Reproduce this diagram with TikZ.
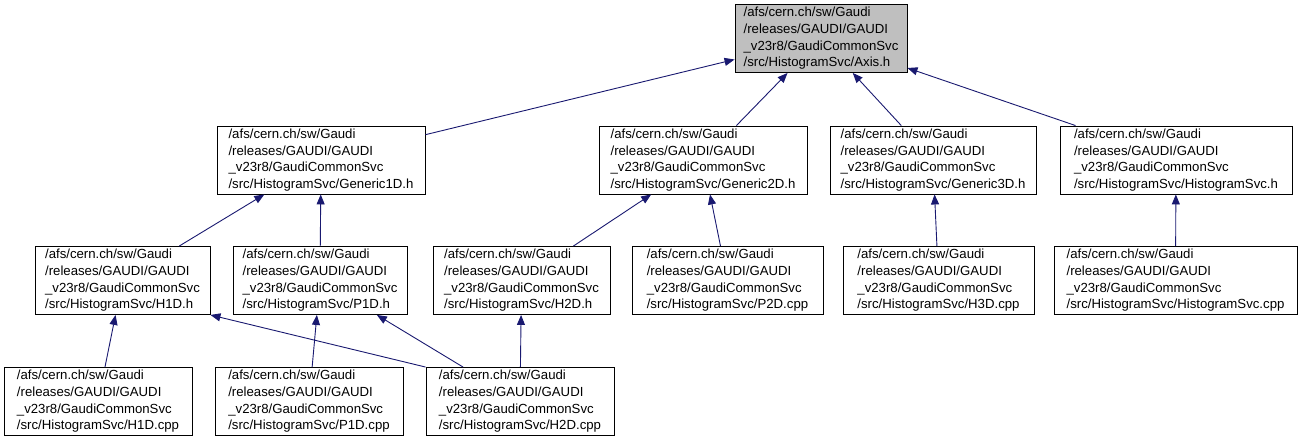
\documentclass[tikz,border=0pt]{standalone}
\usepackage{fontspec}
\setmainfont{Liberation Sans}
\usetikzlibrary{arrows.meta}

\definecolor{edgeblue}{HTML}{191970}
\definecolor{focusgray}{HTML}{BFBFBF}
\newcommand{\gaudifile}[1]{/afs/cern.ch/sw/Gaudi\\/releases/GAUDI/GAUDI\\\_v23r8/GaudiCommonSvc\\/src/HistogramSvc/#1}

\tikzset{
    filenode/.style={draw=black, fill=white, line width=0.9pt, align=left, inner sep=0pt,
        font=\fontsize{13.2}{16.7}\selectfont, minimum height=68pt},
    focus/.style={filenode, fill=focusgray},
    dep/.style={draw=edgeblue, line width=0.9pt, -{Triangle[length=10pt,width=8pt]}},
}

\begin{document}
\begin{tikzpicture}[x=1pt,y=-1pt]
    \useasboundingbox (0,0) rectangle (1303,443);

    % 被包含的头文件
    \node[focus, minimum width=172pt] (axis) at (821,38.5) {\gaudifile{Axis.h}};

    % 第二层
    \node[filenode, minimum width=208pt] (gen1d) at (321,160) {\gaudifile{Generic1D.h}};
    \node[filenode, minimum width=208pt] (gen2d) at (703,160) {\gaudifile{Generic2D.h}};
    \node[filenode, minimum width=206pt] (gen3d) at (933,160) {\gaudifile{Generic3D.h}};
    \node[filenode, minimum width=232pt] (histsvch) at (1176,160) {\gaudifile{HistogramSvc.h}};

    % 第三层
    \node[filenode, minimum width=175pt] (h1dh) at (122.5,280.5) {\gaudifile{H1D.h}};
    \node[filenode, minimum width=174pt] (p1dh) at (320,280.5) {\gaudifile{P1D.h}};
    \node[filenode, minimum width=177pt] (h2dh) at (521.5,280.5) {\gaudifile{H2D.h}};
    \node[filenode, minimum width=191pt] (p2dcpp) at (727.5,280.5) {\gaudifile{P2D.cpp}};
    \node[filenode, minimum width=191pt] (h3dcpp) at (938.5,280.5) {\gaudifile{H3D.cpp}};
    \node[filenode, minimum width=243pt] (histsvccpp) at (1175.5,280.5) {\gaudifile{HistogramSvc.cpp}};

    % 第四层
    \node[filenode, minimum width=188pt] (h1dcpp) at (98,401.5) {\gaudifile{H1D.cpp}};
    \node[filenode, minimum width=188pt] (p1dcpp) at (309,401.5) {\gaudifile{P1D.cpp}};
    \node[filenode, minimum width=188pt] (h2dcpp) at (520,401.5) {\gaudifile{H2D.cpp}};

    % 包含关系
    \draw[dep] (gen1d) -- (axis);
    \draw[dep] (gen2d) -- (axis);
    \draw[dep] (gen3d) -- (axis);
    \draw[dep] (histsvch) -- (axis);
    \draw[dep] (h1dh) -- (gen1d);
    \draw[dep] (p1dh) -- (gen1d);
    \draw[dep] (h2dh) -- (gen2d);
    \draw[dep] (p2dcpp) -- (gen2d);
    \draw[dep] (h3dcpp) -- (gen3d);
    \draw[dep] (histsvccpp) -- (histsvch);
    \draw[dep] (h1dcpp) -- (h1dh);
    \draw[dep] (h2dcpp.north west) -- (h1dh.south east);
    \draw[dep] (p1dcpp) -- (p1dh);
    \draw[dep] (h2dcpp) -- (p1dh);
    \draw[dep] (h2dcpp) -- (h2dh);
\end{tikzpicture}
\end{document}
